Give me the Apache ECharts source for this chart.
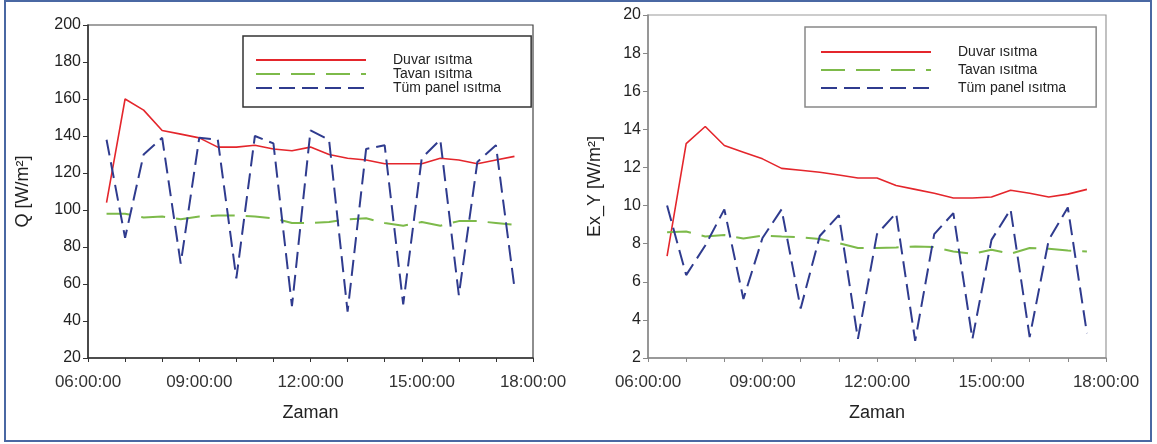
<!DOCTYPE html>
<html>
<head>
<meta charset="utf-8">
<script src="https://cdn.jsdelivr.net/npm/echarts@6/dist/echarts.min.js"></script>
<style>
  body { margin: 0; background: #fff; }
  #chart { width: 1157px; height: 444px; }
</style>
</head>
<body>
<div id="chart"></div>
<script>
// time of each sample (every 30 min)
const times = ['06:30:00', '07:00:00', '07:30:00', '08:00:00', '08:30:00', '09:00:00',
  '09:30:00', '10:00:00', '10:30:00', '11:00:00', '11:30:00', '12:00:00', '12:30:00',
  '13:00:00', '13:30:00', '14:00:00', '14:30:00', '15:00:00', '15:30:00', '16:00:00',
  '16:30:00', '17:00:00', '17:30:00']

const seriesNames = ['Duvar ısıtma', 'Tavan ısıtma', 'Tüm panel ısıtma']

// Q [W/m2]
const qDuvar = [104, 160, 154, 143, 141, 139, 134, 134, 135, 133, 132, 134, 130, 128, 127, 125, 125, 125, 128, 127, 125, 127, 129]
const qTavan = [98, 98, 96, 96.5, 95, 96.5, 97, 97, 96.5, 95.5, 93, 93, 93.5, 95, 95.5, 93, 91.5, 93.5, 91.5, 94, 94, 93, 92]
const qPanel = [138, 85, 130, 139, 71, 139, 138, 63, 140, 136, 48, 143, 138, 45, 133, 135, 49, 128, 138, 54, 126, 135, 58]

// Ex_Y [W/m2]
const exDuvar = [7.35, 13.25, 14.15, 13.15, 12.8, 12.45, 11.95, 11.85, 11.75, 11.6, 11.45, 11.45, 11.05, 10.85, 10.65, 10.4, 10.4, 10.45, 10.8, 10.65, 10.45, 10.6, 10.85]
const exTavan = [8.6, 8.64, 8.38, 8.45, 8.27, 8.43, 8.38, 8.34, 8.24, 8.03, 7.77, 7.77, 7.8, 7.85, 7.82, 7.59, 7.47, 7.68, 7.47, 7.77, 7.73, 7.64, 7.59]
const exPanel = [10, 6.35, 7.9, 9.8, 5.1, 8.3, 9.8, 4.6, 8.4, 9.5, 3.0, 8.5, 9.6, 2.9, 8.5, 9.6, 3.0, 8.2, 9.8, 3.1, 8.2, 9.9, 3.3]

const colors = ['#e4262c', '#7dba4a', '#2f3b8e']
const dashes = [null, [24, 11], [16, 7]]
const font = 'Liberation Sans, Arial, sans-serif'

function toHours(t) {
  const p = t.split(':')
  return +p[0] + p[1] / 60
}
const hours = times.map(toHours)

function pairs(vals) {
  return vals.map((v, i) => [hours[i], v])
}

function hourLabel(v) {
  return (v < 10 ? '0' : '') + v + ':00:00'
}

function makeSeries(idx, lists) {
  return lists.map((vals, k) => ({
    name: seriesNames[k],
    type: 'line',
    xAxisIndex: idx,
    yAxisIndex: idx,
    symbol: 'none',
    data: pairs(vals),
    lineStyle: {
      color: colors[k],
      width: k === 0 ? 1.6 : 2,
      type: dashes[k] || 'solid'
    },
    itemStyle: { color: colors[k] }
  }))
}

function xAxis(idx, lineColor) {
  return {
    type: 'value', gridIndex: idx, min: 6, max: 18, interval: 3,
    name: 'Zaman', nameLocation: 'middle', nameGap: 46,
    nameTextStyle: { fontSize: 18, color: '#222', fontFamily: font },
    axisLine: { lineStyle: { color: lineColor, width: 1.5 } },
    axisTick: { length: 4, lineStyle: { color: lineColor } },
    minorTick: { show: true, splitNumber: 3, length: 4, lineStyle: { color: lineColor } },
    axisLabel: { formatter: hourLabel, fontSize: 17, color: '#333', fontFamily: font, margin: 16 },
    splitLine: { show: false }
  }
}

function yAxis(idx, min, max, step, name, gap, lineColor) {
  return {
    type: 'value', gridIndex: idx, min: min, max: max, interval: step,
    name: name, nameLocation: 'middle', nameGap: gap,
    nameTextStyle: { fontSize: 18, color: '#222', fontFamily: font },
    axisLine: { show: true, lineStyle: { color: lineColor, width: 1.5 } },
    axisTick: { show: true, length: 5, lineStyle: { color: lineColor } },
    axisLabel: { fontSize: 16, color: '#222', fontFamily: font, margin: 7 },
    splitLine: { show: false }
  }
}

function legend(left, top, border, gap, pad) {
  return {
    left: left, top: top, orient: 'vertical',
    data: seriesNames,
    itemWidth: 110, itemHeight: 14, itemGap: gap,
    padding: pad,
    borderColor: border, borderWidth: 1.5,
    backgroundColor: '#fff',
    itemStyle: { opacity: 0 },
    textStyle: { fontSize: 14, color: '#222', fontFamily: font, padding: [0, 0, 0, 22] }
  }
}

const chart = echarts.init(document.getElementById('chart'))

chart.setOption({
  animation: false,
  backgroundColor: '#fff',
  grid: [
    { left: 88, top: 25, width: 445, height: 333, show: true, borderColor: '#444', borderWidth: 1.2 },
    { left: 648, top: 15, width: 458, height: 343, show: true, borderColor: '#999', borderWidth: 1.2 }
  ],
  xAxis: [xAxis(0, '#333'), xAxis(1, '#888')],
  yAxis: [
    yAxis(0, 20, 200, 20, 'Q [W/m²]', 56, '#333'),
    yAxis(1, 2, 20, 2, 'Ex_Y [W/m²]', 44, '#888')
  ],
  legend: [
    legend(243, 36, '#333', 0, [17, 30, 12, 12]),
    legend(805, 27, '#888', 4, [18, 30, 12, 15])
  ],
  series: makeSeries(0, [qDuvar, qTavan, qPanel]).concat(makeSeries(1, [exDuvar, exTavan, exPanel])),
  graphic: [{
    type: 'rect',
    shape: { x: 5, y: 1, width: 1146, height: 440 },
    style: { fill: null, stroke: '#4a68a3', lineWidth: 2 },
    silent: true
  }]
})
</script>
</body>
</html>
